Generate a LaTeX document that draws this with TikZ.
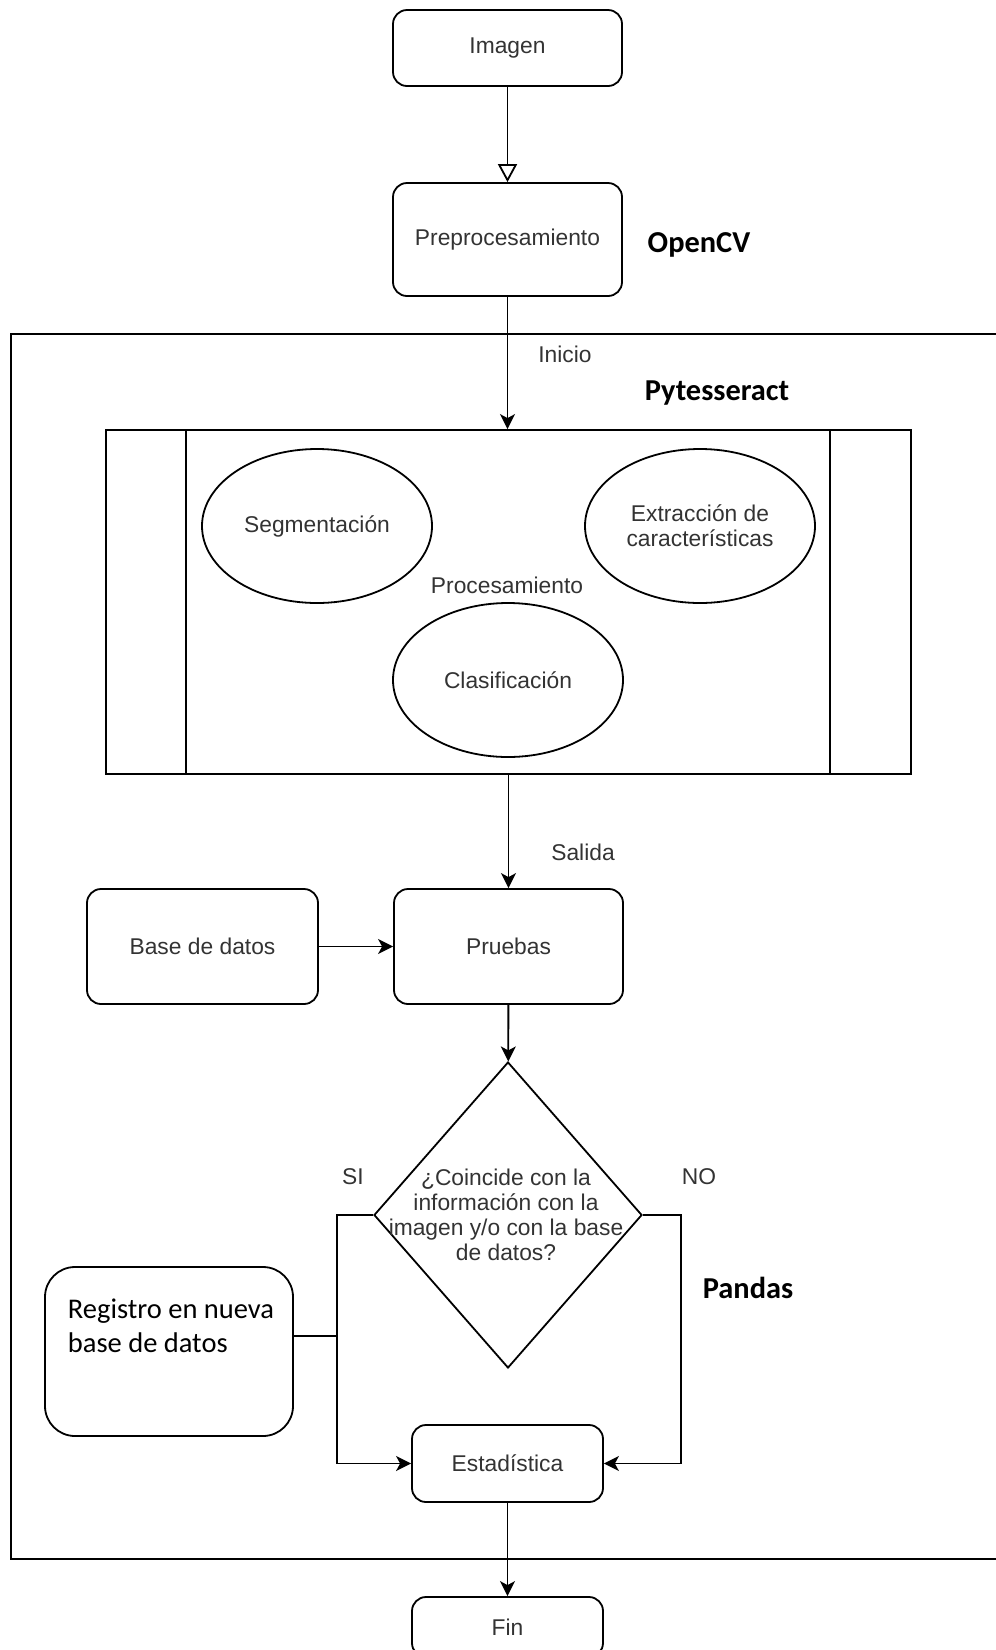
\documentclass[tikz,border=0pt]{standalone}
\usepackage{fontspec}
\setmainfont{Liberation Sans}
\newfontfamily\calibri{Carlito}
\usetikzlibrary{arrows.meta,shapes.geometric}

\definecolor{gristexto}{HTML}{333333}

\tikzset{
    texto/.style={text=gristexto, font=\fontsize{22.8}{25}\selectfont, inner sep=0pt},
    libreria/.style={font=\calibri\bfseries\fontsize{30.4}{34}\selectfont, inner sep=0pt},
    caja/.style={draw, rounded corners=14pt, minimum width=229pt, texto},
    elipse/.style={draw, ellipse, minimum width=230pt, minimum height=154pt, texto, align=center},
    flecha/.style={-{Stealth[length=15pt, width=15pt, inset=4pt]}}
}

\begin{document}
\begin{tikzpicture}[x=1pt, y=-1pt, line width=1.8pt]

    \useasboundingbox (0,0) rectangle (996,1650);
    \clip (0,0) rectangle (996,1650);

    % marco grande
    \draw (1010,334) -- (11,334) -- (11,1559) -- (1010,1559);

    % entrada
    \node[caja, minimum height=76pt] (imagen) at (507.5,48) {Imagen};
    \node[caja, minimum height=113pt] (preproc) at (507.5,239.5) {Preprocesamiento};
    \node[libreria] (opencv) at (699,245) {OpenCV};

    % procesamiento
    \node[draw, minimum width=805pt, minimum height=344pt] (proc) at (508.5,602) {};
    \draw ([xshift=81pt]proc.north west) -- ([xshift=81pt]proc.south west);
    \draw ([xshift=-82pt]proc.north east) -- ([xshift=-82pt]proc.south east);
    \node[elipse] (seg) at (317,526) {Segmentación};
    \node[elipse] (extr) at (700,526) {Extracción de\\características};
    \node[elipse] (clas) at (508,680) {Clasificación};
    \node[texto] (proctxt) at (507,585) {Procesamiento};
    \node[texto] (inicio) at (565,354) {Inicio};
    \node[libreria] (pytess) at (717,393) {Pytesseract};

    % pruebas
    \node[texto] (salida) at (583,852) {Salida};
    \node[caja, minimum height=115pt] (pruebas) at (508.5,946.5) {Pruebas};
    \node[caja, minimum width=231pt, minimum height=115pt] (basedatos) at (202.5,946.5) {Base de datos};

    % decision
    \node[draw, diamond, minimum width=268pt, minimum height=306pt, inner sep=0pt] (decision) at (508,1215) {};
    \node[texto, align=center] (pregunta) at (506,1215)
        {¿Coincide con la\\información con la\\imagen y/o con la base\\de datos?};
    \node[texto] (si) at (353,1177) {SI};
    \node[texto] (no) at (699,1177) {NO};
    \node[libreria] (pandas) at (748,1288) {Pandas};
    \coordinate (siesq) at (337,1215);
    \coordinate (noder) at (681,1215);

    \node[draw, rounded corners=30pt, minimum width=248pt, minimum height=169pt] (registro) at (169,1351.5) {};
    \node[anchor=north west, align=left, inner sep=0pt,
        font=\calibri\fontsize{28.5}{33.5}\selectfont] (registrotxt) at (67,1298)
        {Registro en nueva\\base de datos};

    % salida final
    \node[caja, minimum width=191pt, minimum height=77pt] (estad) at (507.5,1463.5) {Estadística};
    \node[caja, minimum width=191pt, minimum height=60pt] (fin) at (507.5,1627) {Fin};

    % conectores
    \draw[-{Triangle[open, length=18pt, width=19pt]}] (imagen) -- (preproc);
    \draw[flecha] (preproc.south) -- (preproc.south |- proc.north);
    \draw[flecha] (proc.south -| pruebas.north) -- (pruebas.north);
    \draw[flecha] (basedatos) -- (pruebas);
    \draw[flecha] (pruebas) -- (decision);
    \draw[flecha] (decision.west) -- (siesq) |- (estad.west);
    \draw[flecha] (decision.east) -- (noder) |- (estad.east);
    \draw ([yshift=15.5pt]registro.east) -- ([yshift=15.5pt]registro.east -| siesq);
    \draw[flecha] (estad) -- (fin);

\end{tikzpicture}
\end{document}
